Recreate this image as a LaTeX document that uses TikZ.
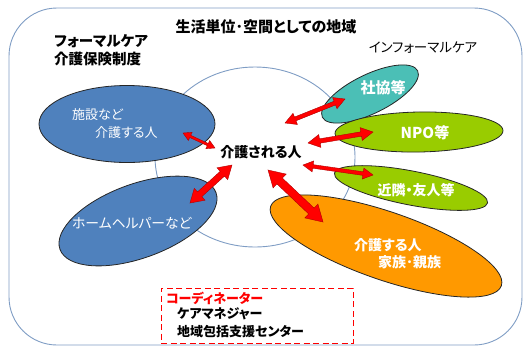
\documentclass[tikz,border=0pt]{standalone}
\usepackage{fontspec}
\setmainfont{Noto Sans CJK JP}[RawFeature=+palt]
\usetikzlibrary{shapes.geometric,calc}
\definecolor{ringblue}{HTML}{7F9DC4}
\definecolor{blueE}{HTML}{4F81BD}
\definecolor{tealE}{HTML}{4BBFB6}
\definecolor{greenE}{HTML}{99CC00}
\definecolor{orangeE}{HTML}{FF9900}
\definecolor{arrowred}{HTML}{FF0000}
\definecolor{arrowedge}{HTML}{B00000}
\tikzset{
  blob/.style={ellipse, draw=black!85, line width=0.8pt, inner sep=0pt},
  ringline/.style={draw=ringblue, line width=0.9pt},
  lbl/.style={inner sep=0pt, anchor=west},
  clbl/.style={inner sep=0pt},
  whitetxt/.style={text=white},
  bigarrow/.style={fill=arrowred, draw=arrowedge, line width=0.4pt, line join=miter},
}
% name, from, to, half shaft, half head, head length
\newcommand{\dblarrow}[6]{%
  \coordinate (#1ca) at ($(#2)!#6!(#3)$);
  \coordinate (#1cb) at ($(#3)!#6!(#2)$);
  \draw[bigarrow] (#2) -- ($(#1ca)!#5!90:(#3)$) -- ($(#1ca)!#4!90:(#3)$)
    -- ($(#1cb)!#4!-90:(#2)$) -- ($(#1cb)!#5!-90:(#2)$) -- (#3)
    -- ($(#1cb)!#5!90:(#2)$) -- ($(#1cb)!#4!90:(#2)$)
    -- ($(#1ca)!#4!-90:(#3)$) -- ($(#1ca)!#5!-90:(#3)$) -- cycle;
}
\begin{document}
\begin{tikzpicture}[x=1pt,y=-1pt]
\useasboundingbox (0,0) rectangle (526,349);
% outer region
\draw[ringline, rounded corners=48pt] (9,8) rectangle (522,345);
% centre ring
\node[ellipse, ringline, minimum width=200pt, minimum height=180pt, inner sep=0pt] (ring) at (255,157) {};
% ellipses
\node[blob, fill=blueE, minimum width=176pt, minimum height=77pt] (shisetsu) at (127,124) {};
\node[blob, fill=blueE, minimum width=166pt, minimum height=74pt, rotate=20] (helper) at (138,221) {};
\node[blob, fill=tealE, minimum width=106pt, minimum height=39pt, rotate=26] (shakyo) at (370,94) {};
\node[blob, fill=greenE, minimum width=168pt, minimum height=40pt, rotate=1] (npo) at (419,132) {};
\node[blob, fill=greenE, minimum width=156pt, minimum height=34pt, rotate=-11] (kinrin) at (411,188) {};
\node[blob, fill=orangeE, minimum width=244pt, minimum height=68pt, rotate=-19] (kazoku) at (386,246) {};
% dashed coordinator box
\node[draw=arrowred, dashed, dash pattern=on 6pt off 3.5pt, line width=0.9pt, minimum width=192pt, minimum height=55pt, inner sep=0pt] (coordbox) at (257,315.5) {};
% texts
\node[clbl, font=\fontsize{15}{17}\selectfont\bfseries] (title) at (266,27) {生活単位･空間としての地域};
\node[lbl, font=\fontsize{14.5}{18}\selectfont\bfseries, align=left, anchor=north west] (formal) at (54,34) {フォーマルケア\\介護保険制度};
\node[clbl, font=\fontsize{13.5}{16}\selectfont] (informal) at (423,48) {インフォーマルケア};
\node[clbl, font=\fontsize{14}{16}\selectfont\bfseries] (center) at (261,152) {介護される人};
\node[lbl, whitetxt, font=\fontsize{13}{16}\selectfont] (t1a) at (72,115) {施設など};
\node[lbl, whitetxt, font=\fontsize{13}{16}\selectfont] (t1b) at (95,133) {介護する人};
\node[lbl, whitetxt, font=\fontsize{13.8}{16}\selectfont] (t2) at (72,223) {ホームヘルパーなど};
\node[clbl, whitetxt, font=\fontsize{15}{17}\selectfont\bfseries] (t3) at (383,88) {社協等};
\node[clbl, whitetxt, font=\fontsize{15}{17}\selectfont\bfseries] (t4) at (425,133) {NPO等};
\node[clbl, whitetxt, font=\fontsize{14}{17}\selectfont\bfseries] (t5) at (416,190) {近隣・友人等};
\node[lbl, whitetxt, font=\fontsize{14}{17}\selectfont\bfseries] (t6a) at (354,245) {介護する人};
\node[lbl, whitetxt, font=\fontsize{14}{17}\selectfont\bfseries] (t6b) at (378,262) {家族･親族};
\node[lbl, text=arrowred, font=\fontsize{13}{16}\selectfont\bfseries] (c1) at (166,298) {コーディネーター};
\node[lbl, font=\fontsize{13}{16}\selectfont\bfseries] (c2) at (177,314) {ケアマネジャー};
\node[lbl, font=\fontsize{13}{16}\selectfont\bfseries] (c3) at (177,332) {地域包括支援センター};
% arrow end points
\coordinate (a1) at (183,133); \coordinate (a2) at (215,148);
\coordinate (b1) at (190,203); \coordinate (b2) at (232,165);
\coordinate (cc1) at (285,123); \coordinate (cc2) at (345,99);
\coordinate (d1) at (308,143); \coordinate (d2) at (373,132);
\coordinate (e1) at (303,165); \coordinate (e2) at (373,175);
\coordinate (f1) at (268,170); \coordinate (f2) at (323,222);
\dblarrow{A}{a1}{a2}{1.2pt}{4.5pt}{8pt}
\dblarrow{B}{b1}{b2}{3.2pt}{8pt}{13pt}
\dblarrow{C}{cc1}{cc2}{2pt}{6pt}{11pt}
\dblarrow{D}{d1}{d2}{2.2pt}{6.5pt}{12pt}
\dblarrow{E}{e1}{e2}{1.8pt}{5.5pt}{10pt}
\dblarrow{F}{f1}{f2}{4pt}{9.5pt}{16pt}
\end{tikzpicture}
\end{document}
